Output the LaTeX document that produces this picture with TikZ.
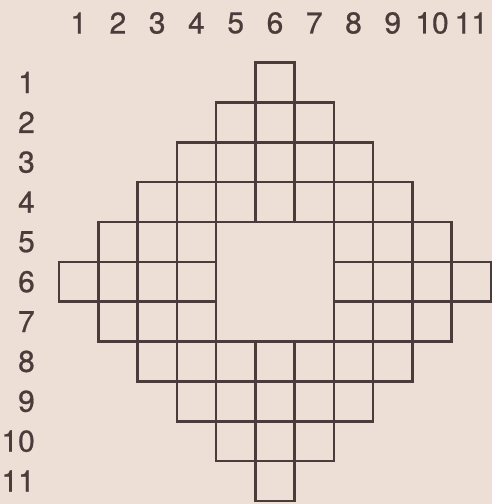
\documentclass[tikz,border=0pt]{standalone}
\usepackage{fontspec}
\setmainfont{TeX Gyre Heros}
\newfontfamily\numfont[FakeBold=0.7]{TeX Gyre Heros}
\definecolor{paper}{RGB}{237,223,213}
\definecolor{ink}{RGB}{74,60,58}
\newcommand{\cellw}{39.27}
\newcommand{\cellh}{39.86}
\newcommand{\gridx}{59}
\newcommand{\gridy}{62.5}
\tikzset{
    number/.style={font=\numfont\fontsize{30}{30}\selectfont, text=ink, inner sep=0pt},
    cellbox/.style={draw=ink, line width=2.6pt}
}
\begin{document}
\begin{tikzpicture}[x=1pt, y=-1pt]
    % Paper
    \fill[paper] (0,0) rectangle (492,504);
    \useasboundingbox (0,0) rectangle (492,504);

    % Column numbers
    \foreach \c in {1,...,11}
        \node[number] (col\c) at ({\gridx+(\c-0.5)*\cellw}, 23) {\c};

    % Row numbers
    \foreach \r in {1,...,11}
        \node[number, anchor=east] (row\r) at (35, {\gridy+(\r-0.5)*\cellh}) {\r};

    % Cells of the diamond
    \foreach \r in {1,...,11} {
        \pgfmathtruncatemacro{\first}{abs(\r-6)+1}
        \pgfmathtruncatemacro{\last}{11-abs(\r-6)}
        \foreach \c in {\first,...,\last} {
            \pgfmathtruncatemacro{\inner}{and(abs(\r-6)<2, abs(\c-6)<2)}
            \ifnum\inner=0
                \draw[cellbox] ({\gridx+(\c-1)*\cellw}, {\gridy+(\r-1)*\cellh}) rectangle ({\gridx+\c*\cellw}, {\gridy+\r*\cellh});
            \fi
        }
    }

    % Empty centre
    \draw[cellbox] ({\gridx+4*\cellw}, {\gridy+4*\cellh}) rectangle ({\gridx+7*\cellw}, {\gridy+7*\cellh});
\end{tikzpicture}
\end{document}
